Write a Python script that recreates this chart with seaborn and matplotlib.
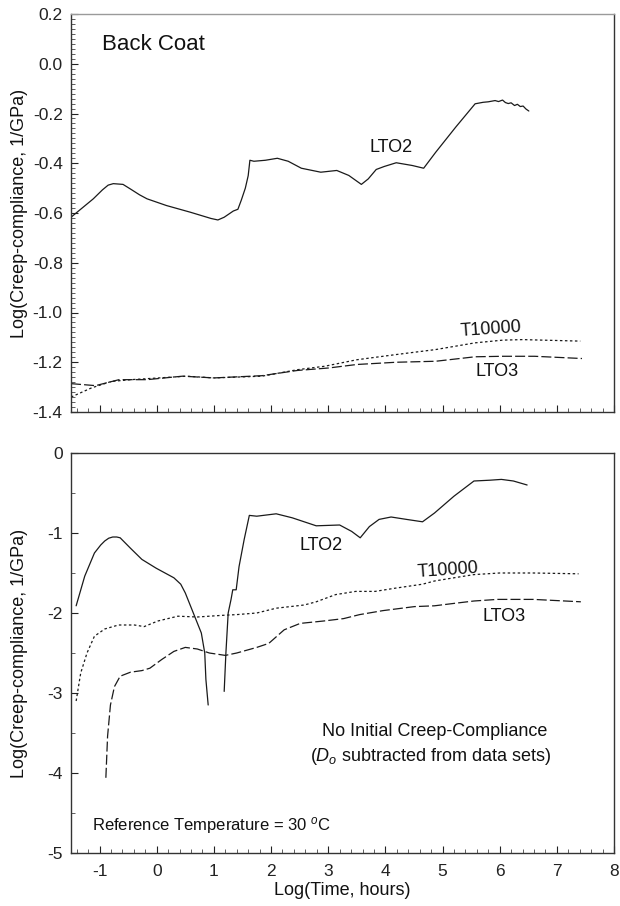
import numpy as np
import pandas as pd
import matplotlib
matplotlib.use("Agg")
import matplotlib.pyplot as plt
from matplotlib.ticker import MultipleLocator, FormatStrFormatter
import seaborn as sns

# ---------------- data ----------------
# Top panel: Back Coat
lto2_top_x = [-1.5, -1.11, -0.95, -0.85, -0.76, -0.59, -0.45, -0.30, -0.17, 0.17, 0.59, 0.95, 1.07, 1.18, 1.34,
              1.42, 1.48, 1.55, 1.60, 1.63, 1.70, 1.90, 2.11, 2.30, 2.53, 2.87, 3.15, 3.36, 3.58, 3.70, 3.84,
              3.98, 4.19, 4.47, 4.67, 4.88, 5.23, 5.57, 5.71, 5.80, 5.92, 5.98, 6.05, 6.10, 6.15, 6.20, 6.26,
              6.31, 6.36, 6.41, 6.46, 6.51]
lto2_top_y = [-0.617, -0.543, -0.507, -0.488, -0.482, -0.485, -0.505, -0.527, -0.543, -0.570, -0.597, -0.622,
              -0.628, -0.617, -0.592, -0.585, -0.548, -0.500, -0.450, -0.388, -0.392, -0.388, -0.380, -0.392,
              -0.420, -0.436, -0.429, -0.449, -0.485, -0.463, -0.425, -0.413, -0.398, -0.409, -0.420, -0.356,
              -0.255, -0.161, -0.155, -0.153, -0.148, -0.152, -0.146, -0.156, -0.160, -0.157, -0.168, -0.163,
              -0.172, -0.170, -0.182, -0.190]

t10000_top_x = [-1.5, -1.14, -0.79, -0.45, 0.04, 0.52, 1.0, 1.84, 2.46, 2.94, 3.5, 4.19, 4.88, 5.57, 6.06, 6.4, 7.41]
t10000_top_y = [-1.340, -1.303, -1.277, -1.270, -1.263, -1.256, -1.263, -1.256, -1.230, -1.216, -1.190, -1.169,
                -1.149, -1.122, -1.111, -1.109, -1.115]

lto3_top_x = [-1.5, -1.07, -0.66, -0.17, 0.45, 1.0, 1.84, 2.46, 3.01, 3.5, 4.19, 4.88, 5.57, 6.06, 6.61, 7.44]
lto3_top_y = [-1.286, -1.294, -1.270, -1.270, -1.256, -1.263, -1.254, -1.233, -1.223, -1.209, -1.200, -1.196,
              -1.178, -1.176, -1.176, -1.185]

# Bottom panel: D0 subtracted (LTO2 has a gap where values become negative)
lto2_bot_x1 = [-1.41, -1.26, -1.09, -0.98, -0.91, -0.84, -0.77, -0.70, -0.64, -0.46, -0.26, -0.01, 0.30, 0.42,
               0.50, 0.64, 0.78, 0.84, 0.86, 0.90]
lto2_bot_y1 = [-1.91, -1.54, -1.25, -1.15, -1.10, -1.065, -1.05, -1.05, -1.06, -1.19, -1.33, -1.44, -1.56,
               -1.64, -1.75, -2.00, -2.25, -2.50, -2.83, -3.15]
lto2_bot_x2 = [1.18, 1.21, 1.25, 1.30, 1.33, 1.39, 1.44, 1.53, 1.62, 1.75, 2.09, 2.37, 2.79, 3.20, 3.41, 3.56,
               3.72, 3.89, 4.10, 4.37, 4.65, 4.86, 5.20, 5.55, 5.83, 6.03, 6.24, 6.48]
lto2_bot_y2 = [-2.98, -2.50, -2.00, -1.83, -1.71, -1.71, -1.42, -1.08, -0.78, -0.79, -0.76, -0.81, -0.91, -0.90,
               -0.98, -1.06, -0.92, -0.83, -0.80, -0.83, -0.86, -0.75, -0.54, -0.35, -0.34, -0.33, -0.35, -0.40]

t10000_bot_x = [-1.41, -1.33, -1.22, -1.09, -0.91, -0.67, -0.39, -0.22, 0.02, 0.37, 0.71, 1.13, 1.40, 1.75,
                2.09, 2.58, 2.79, 3.13, 3.48, 3.82, 4.17, 4.65, 4.86, 5.20, 5.55, 6.0, 6.59, 7.38]
t10000_bot_y = [-3.10, -2.75, -2.50, -2.29, -2.20, -2.15, -2.15, -2.17, -2.10, -2.04, -2.05, -2.03, -2.02, -2.00,
                -1.94, -1.90, -1.86, -1.77, -1.73, -1.73, -1.69, -1.64, -1.60, -1.56, -1.52, -1.50, -1.50, -1.51]

lto3_bot_x = [-0.89, -0.86, -0.81, -0.74, -0.64, -0.46, -0.26, -0.12, 0.09, 0.30, 0.50, 0.71, 0.92, 1.20, 1.40,
              1.75, 1.96, 2.23, 2.51, 2.92, 3.27, 3.55, 3.96, 4.51, 4.86, 5.20, 5.55, 5.96, 6.59, 7.42]
lto3_bot_y = [-4.06, -3.54, -3.15, -2.92, -2.79, -2.74, -2.72, -2.69, -2.58, -2.48, -2.43, -2.45, -2.50, -2.53,
              -2.50, -2.43, -2.38, -2.21, -2.13, -2.10, -2.07, -2.02, -1.97, -1.92, -1.91, -1.88, -1.85, -1.83,
              -1.83, -1.86]

top_yticks = [0.2, 0.0, -0.2, -0.4, -0.6, -0.8, -1.0, -1.2, -1.4]
bot_yticks = [0, -1, -2, -3, -4, -5]
xticks = [-1, 0, 1, 2, 3, 4, 5, 6, 7, 8]

# ---------------- style ----------------
sns.set_theme(style="ticks")
plt.rcParams["font.family"] = ["Liberation Sans", "DejaVu Sans"]
plt.rcParams["axes.unicode_minus"] = False
plt.rcParams["mathtext.fontset"] = "custom"
plt.rcParams["mathtext.rm"] = "Liberation Sans"
plt.rcParams["mathtext.it"] = "Liberation Sans:italic"

W, H = 620, 906
fig = plt.figure(figsize=(W / 100, H / 100), dpi=100)
ax1 = fig.add_axes([71 / W, 1 - 412 / H, 543 / W, 398 / H])
ax2 = fig.add_axes([71 / W, 1 - 853 / H, 543 / W, 400 / H])

lw = 0.9
col = "#1a1a1a"

def draw(ax, x, y, dashes):
    df = pd.DataFrame({"x": x, "y": y})
    sns.lineplot(data=df, x="x", y="y", ax=ax, sort=False, estimator=None,
                 color=col, linewidth=lw)
    l = ax.get_lines()[-1]
    if dashes is not None:
        l.set_dashes(dashes)

draw(ax1, lto2_top_x, lto2_top_y, None)
draw(ax1, t10000_top_x, t10000_top_y, (2, 2))
draw(ax1, lto3_top_x, lto3_top_y, (8, 2.5))

draw(ax2, lto2_bot_x1, lto2_bot_y1, None)
draw(ax2, lto2_bot_x2, lto2_bot_y2, None)
draw(ax2, t10000_bot_x, t10000_bot_y, (2, 2))
draw(ax2, lto3_bot_x, lto3_bot_y, (8, 2.5))

fs_tick = 12.5
fs_lab = 13
for ax in (ax1, ax2):
    ax.set_xlim(-1.5, 8)
    ax.set_xticks(xticks)
    ax.xaxis.set_minor_locator(MultipleLocator(0.2))
    ax.tick_params(axis="both", which="major", direction="in", length=5, width=0.8,
                   labelsize=fs_tick, colors="#222222", pad=6)
    ax.tick_params(axis="both", which="minor", direction="in", length=3, width=0.6, colors="#444444")
    ax.tick_params(axis="x", which="both", top=False, bottom=True)
    ax.tick_params(axis="y", which="both", right=False, left=True)
    for s in ax.spines.values():
        s.set_visible(True)
        s.set_linewidth(1.0)
        s.set_color("#333333")
    ax.set_xlabel("")
    ax.set_ylabel("Log(Creep-compliance, 1/GPa)", fontsize=fs_lab, color="#111111")
    ax.yaxis.set_label_coords(-0.079, 0.5)

ax1.spines["top"].set_color("#9a9a9a")
ax1.set_ylim(-1.4, 0.2)
ax1.set_yticks(top_yticks)
ax1.yaxis.set_major_formatter(FormatStrFormatter("%.1f"))
ax1.yaxis.set_minor_locator(MultipleLocator(0.02))
ax1.tick_params(axis="x", which="both", labelbottom=False)

ax2.set_ylim(-5, 0)
ax2.set_yticks(bot_yticks)
ax2.yaxis.set_major_formatter(FormatStrFormatter("%d"))
ax2.yaxis.set_minor_locator(MultipleLocator(0.5))
ax2.tick_params(axis="x", which="major", pad=8)
ax2.set_xlabel("Log(Time, hours)", fontsize=13, color="#111111", labelpad=2)

tk = dict(fontsize=13, color="#111111", ha="center", va="center")
ax1.text(-0.95, 0.076, "Back Coat", fontsize=16, color="#111111", ha="left", va="center")
ax1.text(4.1, -0.336, "LTO2", **tk)
ax1.text(5.85, -1.068, "T10000", rotation=4, **tk)
ax1.text(5.95, -1.236, "LTO3", **tk)

ax2.text(2.88, -1.16, "LTO2", **tk)
ax2.text(5.1, -1.47, "T10000", rotation=4, **tk)
ax2.text(6.08, -2.04, "LTO3", **tk)
ax2.text(4.86, -3.48, "No Initial Creep-Compliance", **tk)
ax2.text(4.8, -3.79, r"($D_o$ subtracted from data sets)", **tk)
ax2.text(-1.14, -4.65, r"Reference Temperature = 30 $^{o}$C", fontsize=12, color="#111111",
         ha="left", va="center")

fig.savefig("out.png", dpi=100)
